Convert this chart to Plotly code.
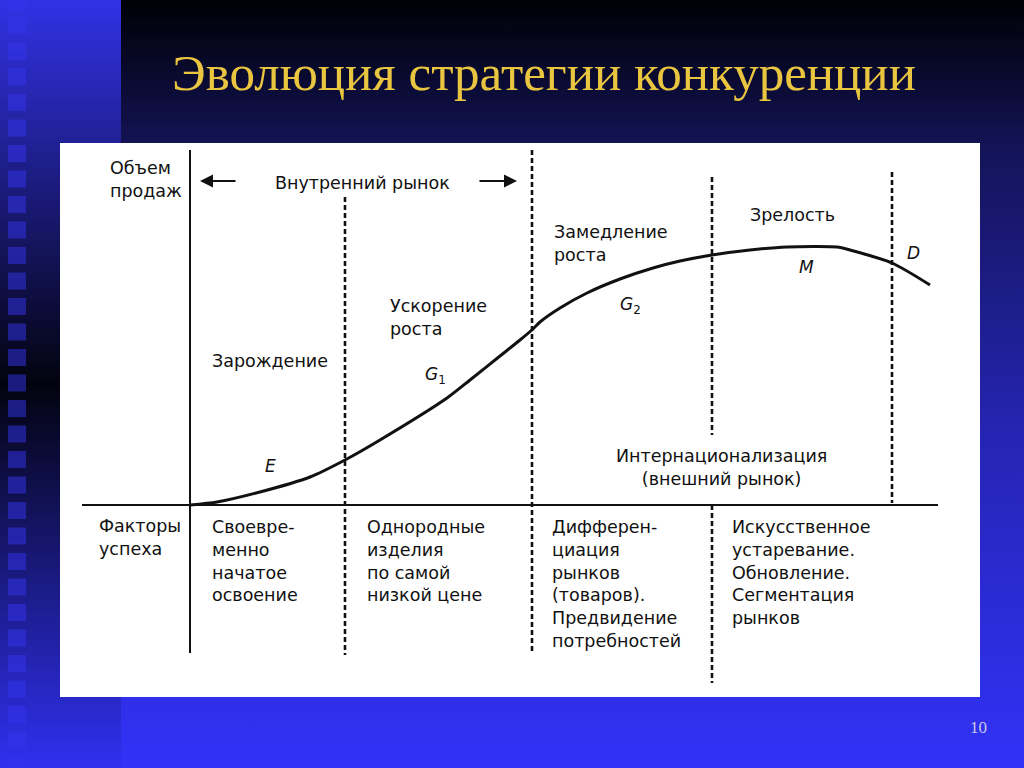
import plotly.graph_objects as go

# sales curve: time since entering the market vs sales volume
time = [0, 2.7, 7, 12, 15.5, 19, 25.7, 28, 31, 33, 34.3, 35, 37, 39.7,
        43, 46.3, 49, 52.2, 56, 59.7, 64.7, 66, 70.2, 74]
sales = [0, 0.3, 1.3, 2.8, 4.5, 6.5, 10.7, 12.5, 14.9, 16.5, 17.6, 18.3, 19.7, 21.2,
         22.6, 23.7, 24.4, 25.0, 25.5, 25.8, 25.8, 25.5, 24.2, 22.0]

# stage boundaries on the time axis
stage_bounds = [15.5, 34.2, 52.2, 70.2]

stage_names = ["Зарождение", "Ускорение<br>роста", "Замедление<br>роста", "Зрелость"]
curve_points = ["<i>E</i>", "<i>G</i><sub>1</sub>", "<i>G</i><sub>2</sub>", "<i>M</i>", "<i>D</i>"]
success_factors = [
    "Своевре-<br>менно<br>начатое<br>освоение",
    "Однородные<br>изделия<br>по самой<br>низкой цене",
    "Дифферен-<br>циация<br>рынков<br>(товаров).<br>Предвидение<br>потребностей",
    "Искусственное<br>устаревание.<br>Обновление.<br>Сегментация<br>рынков",
]

W, H = 1024, 768
PANEL = (60, 143, 980, 697)  # left, top, right, bottom in px

fig = go.Figure()

# ---- slide background (full-page axes in pixels) ----
def rect(x0, y0, x1, y1):
    return [x0, x1, x1, x0, x0], [y0, y0, y1, y1, y0]

bx, by = rect(0, 0, W, H)
fig.add_trace(go.Scatter(x=bx, y=by, mode="none", fill="toself",
                         fillgradient=dict(type="vertical", start=0, stop=H,
                                           colorscale=[[0, "#000006"], [0.2, "#14145a"],
                                                       [0.55, "#2424b0"], [1, "#3232f8"]]),
                         hoverinfo="skip", xaxis="x", yaxis="y"))
sx, sy = rect(0, 0, 121, H)
fig.add_trace(go.Scatter(x=sx, y=sy, mode="none", fill="toself",
                         fillgradient=dict(type="vertical", start=0, stop=H,
                                           colorscale=[[0, "#3232e6"], [0.5, "#03030f"],
                                                       [1, "#3030f0"]]),
                         hoverinfo="skip", xaxis="x", yaxis="y"))
qx, qy = [], []
top = 145 - 25.5 * 6
while top < H:
    x, y = rect(8, top, 26, top + 17)
    qx += x + [None]
    qy += y + [None]
    top += 25.5
fig.add_trace(go.Scatter(x=qx, y=qy, mode="none", fill="toself",
                         fillcolor="rgba(52,52,238,0.5)", hoverinfo="skip",
                         xaxis="x", yaxis="y"))
px_, py_ = rect(*PANEL)
fig.add_trace(go.Scatter(x=px_, y=py_, mode="none", fill="toself", fillcolor="white",
                         hoverinfo="skip", xaxis="x", yaxis="y"))

# ---- chart ----
ink = "#111111"
fig.add_trace(go.Scatter(x=[0, 0], y=[35.5, -14.8], mode="lines",
                         line=dict(color=ink, width=2), xaxis="x2", yaxis="y2"))
fig.add_trace(go.Scatter(x=[-10.8, 74.8], y=[0, 0], mode="lines",
                         line=dict(color=ink, width=2), xaxis="x2", yaxis="y2"))

dash_top = [30.8, 35.5, 32.8, 33.3]
dash_bot = [-15.0, -14.8, -17.8, 0.2]
for b, t, lo in zip(stage_bounds, dash_top, dash_bot):
    ys = [t, lo]
    xs = [b, b]
    if b == stage_bounds[2]:
        xs = [b, b, None, b, b]
        ys = [t, 7.0, None, 0, lo]
    fig.add_trace(go.Scatter(x=xs, y=ys, mode="lines",
                             line=dict(color=ink, width=2.6, dash="5px,3px"),
                             xaxis="x2", yaxis="y2"))

fig.add_trace(go.Scatter(x=time, y=sales, mode="lines",
                         line=dict(color=ink, width=3, shape="spline", smoothing=0.7),
                         xaxis="x2", yaxis="y2"))

txt = dict(family="DejaVu Sans", size=17.5, color=ink)


def label(x, y, text, xanchor="left", align="left", font=txt):
    fig.add_annotation(x=x, y=y, xref="x2", yref="y2", text=text, showarrow=False,
                       xanchor=xanchor, yanchor="middle", align=align, font=font)


label(-8.2, 32.5, "Объем<br>продаж")
label(8.3, 32.2, "Внутренний рынок")
for (x, y), name in zip([(2.0, 14.4), (19.8, 18.8), (36.2, 26.15), (55.8, 29.0)], stage_names):
    label(x, y, name)
label(53.1, 3.8, "Интернационализация<br>(внешний рынок)", xanchor="center", align="center")
label(-9.3, -3.25, "Факторы<br>успеха")
for (x, y), name in zip([(2.0, -5.55), (17.5, -5.55), (36.0, -7.85), (54.0, -6.7)],
                        success_factors):
    label(x, y, name)

pt_font = dict(family="DejaVu Sans", size=17, color=ink)
for (x, y), name in zip([(8.0, 3.9), (23.3, 13.0), (42.8, 20.0), (61.6, 23.8), (72.3, 25.2)],
                        curve_points):
    label(x, y, name, xanchor="left" if "G" in name else "center", font=pt_font)

# market arrows
for head, tail in [(1.0, 4.7), (32.7, 28.8)]:
    fig.add_annotation(x=head, y=32.4, ax=tail, ay=32.4, xref="x2", yref="y2",
                       axref="x2", ayref="y2", text="", showarrow=True,
                       arrowhead=2, arrowsize=1.3, arrowwidth=2, arrowcolor=ink)

# ---- slide title and page number ----
fig.add_annotation(x=543.5 / W, y=1 - 73 / H, xref="paper", yref="paper",
                   text="Эволюция стратегии конкуренции", showarrow=False,
                   xanchor="center", yanchor="middle",
                   font=dict(family="Liberation Serif", size=51, color="#eac640"))
fig.add_annotation(x=978 / W, y=1 - 727 / H, xref="paper", yref="paper", text="10",
                   showarrow=False, xanchor="center", yanchor="middle",
                   font=dict(family="Liberation Serif", size=17, color="#c8c8e8"))

fig.update_layout(
    width=W, height=H, margin=dict(l=0, r=0, t=0, b=0),
    showlegend=False, hovermode=False,
    paper_bgcolor="#000000", plot_bgcolor="rgba(0,0,0,0)",
    xaxis=dict(domain=[0, 1], range=[0, W], visible=False, fixedrange=True),
    yaxis=dict(domain=[0, 1], range=[H, 0], visible=False, fixedrange=True),
    xaxis2=dict(domain=[PANEL[0] / W, PANEL[2] / W], range=[-13, 79],
                visible=False, fixedrange=True, anchor="y2"),
    yaxis2=dict(domain=[1 - PANEL[3] / H, 1 - PANEL[1] / H], range=[-19.2, 36.2],
                visible=False, fixedrange=True, anchor="x2"),
)

fig.write_html("out.html", config={"displayModeBar": False},
               post_script="document.body.style.margin='0';")
